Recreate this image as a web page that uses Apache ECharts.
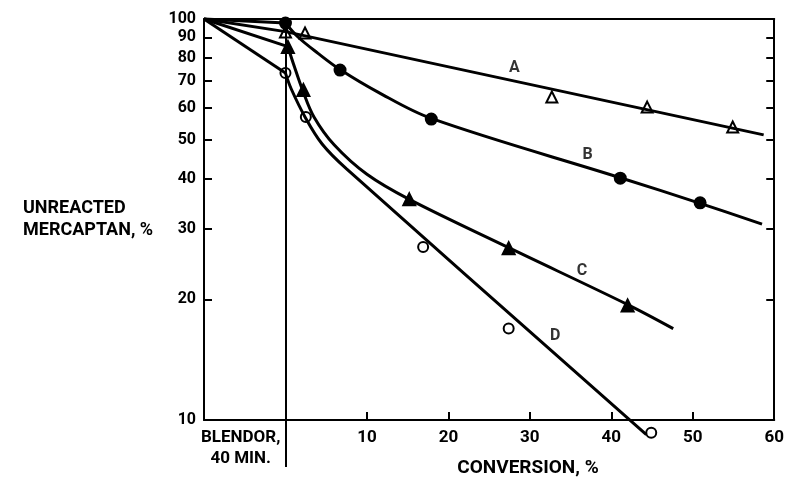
<!DOCTYPE html>
<html>
<head>
<meta charset="utf-8">
<script src="https://cdn.jsdelivr.net/npm/echarts@6/dist/echarts.min.js"></script>
<style>
  html, body { margin: 0; padding: 0; background: #fff; }
  #main { width: 787px; height: 477px; }
</style>
</head>
<body>
<div id="main"></div>
<script>
// measured points (x = conversion %, y = unreacted mercaptan %)
var aX = [0, 2.4, 32.7, 44.4, 54.9];
var aY = [92.8, 92.3, 63.9, 60.3, 53.8];
var bX = [0, 6.7, 17.9, 41.1, 50.9];
var bY = [97.7, 74.6, 56.3, 40.1, 34.8];
var cX = [0.3, 2.2, 15.2, 27.4, 42.0];
var cY = [85.2, 66.5, 35.5, 26.8, 19.3];
var dX = [0, 2.5, 16.9, 27.4, 44.9];
var dY = [73.3, 57.0, 27.0, 16.9, 9.3];

// fitted curves
var curveAX = [0, 58.7];
var curveAY = [93, 51.4];
var curveBX = [0, 1.5, 4, 6.7, 11.3, 17.9, 41.1, 50.9, 58.5];
var curveBY = [97.7, 90.3, 82.1, 74.8, 65.8, 56.5, 40.2, 34.7, 30.8];
var curveCX = [0.3, 1.1, 2.1, 3.5, 6.0, 10, 15.2, 27.4, 42.0, 47.6];
var curveCY = [85.3, 76, 66.5, 57, 48.5, 41, 35.5, 26.9, 19.4, 16.9];
var curveDX = [0, 0.7, 2.4, 4.5, 7.5, 44.3];
var curveDY = [73.3, 67, 57, 48.8, 42.3, 9.2];

// every curve starts at the blendor point
var blendX = -10;
var blendY = 100;

var curveNames = ["A", "B", "C", "D"];
var curveLabelX = [28.1, 37.1, 36.4, 33.1];
var curveLabelY = [75.5, 45.8, 23.5, 16.2];

var yTicks = [10, 20, 30, 40, 50, 60, 70, 80, 90, 100];
var xTicks = [10, 20, 30, 40, 50, 60];
var blendorLabel = "BLENDOR,\n40 MIN.";
var blendorAt = -5.5;

var FONT = "Roboto, 'DejaVu Sans', sans-serif";

function lg(v) {
  return Math.log10(v);
}
function pts(xs, ys) {
  return xs.map(function(x, i) {
    return [x, lg(ys[i])];
  });
}

var innerTicks = yTicks.slice(1, -1).map(lg);

var curves = [
  [curveAX, curveAY],
  [curveBX, curveBY],
  [curveCX, curveCY],
  [curveDX, curveDY]
];

var series = [];
curves.forEach(function(c, i) {
  // straight run from the blendor point to x = 0
  series.push({
    type: "line",
    data: [[blendX, lg(blendY)], [c[0][0], lg(c[1][0])]],
    symbol: "none",
    clip: false,
    silent: true,
    lineStyle: { color: "#000", width: 3 }
  });
  series.push({
    name: curveNames[i],
    type: "line",
    data: pts(c[0], c[1]),
    symbol: "none",
    smooth: 0.35,
    clip: false,
    silent: true,
    lineStyle: { color: "#000", width: 3 },
    markLine: i === 0 ? {
      silent: true,
      symbol: ["none", "none"],
      label: { show: false },
      lineStyle: { color: "#000", width: 2, type: "solid" },
      data: [{ xAxis: 0 }]
    } : undefined
  });
});

var markers = [
  { x: aX, y: aY, symbol: "triangle", size: 11, fill: "#fff" },
  { x: bX, y: bY, symbol: "circle", size: 11, fill: "#000" },
  { x: cX, y: cY, symbol: "triangle", size: 12, fill: "#000" },
  { x: dX, y: dY, symbol: "circle", size: 10, fill: "#fff" }
];
markers.forEach(function(m) {
  series.push({
    type: "scatter",
    data: pts(m.x, m.y),
    symbol: m.symbol,
    symbolSize: m.size,
    clip: false,
    itemStyle: { color: m.fill, borderColor: "#000", borderWidth: 2, opacity: 1 }
  });
});

series.push({
  type: "scatter",
  symbolSize: 0,
  silent: true,
  data: curveNames.map(function(n, i) {
    return { name: n, value: [curveLabelX[i], lg(curveLabelY[i])] };
  }),
  label: {
    show: true,
    position: "inside",
    formatter: "{b}",
    color: "#000",
    fontFamily: FONT,
    fontWeight: "bold",
    fontSize: 16
  }
});

var myChart = echarts.init(document.getElementById("main"));
myChart.setOption({
  animation: false,
  backgroundColor: "#fff",
  grid: { left: 204, right: 11, top: 19, bottom: 57 },
  xAxis: [
    {
      type: "value",
      position: "bottom",
      min: -10,
      max: 60,
      axisLine: { onZero: false, lineStyle: { color: "#000", width: 2 } },
      axisTick: {
        inside: true,
        length: 8,
        customValues: xTicks.slice(0, -1),
        lineStyle: { color: "#000", width: 2 }
      },
      axisLabel: {
        customValues: [blendorAt].concat(xTicks),
        formatter: function(v) {
          return v === blendorAt ? blendorLabel : String(v);
        },
        margin: 7,
        color: "#000",
        fontFamily: FONT,
        fontWeight: "bold",
        fontSize: 17,
        lineHeight: 21
      },
      splitLine: { show: false }
    },
    {
      // the x = 0 line runs on below the axis
      type: "value",
      position: "bottom",
      min: -10,
      max: 60,
      axisLine: { show: false, onZero: false },
      axisTick: {
        inside: false,
        length: 47,
        customValues: [0],
        lineStyle: { color: "#000", width: 2 }
      },
      axisLabel: { show: false },
      splitLine: { show: false }
    },
    {
      type: "value",
      position: "top",
      min: -10,
      max: 60,
      axisLine: { onZero: false, lineStyle: { color: "#000", width: 2 } },
      axisTick: { show: false },
      axisLabel: { show: false },
      splitLine: { show: false }
    }
  ],
  yAxis: [
    {
      type: "value",
      position: "left",
      min: 1,
      max: 2,
      axisLine: { show: true, onZero: false, lineStyle: { color: "#000", width: 2 } },
      axisTick: {
        show: true,
        inside: true,
        length: 8,
        customValues: innerTicks,
        lineStyle: { color: "#000", width: 2 }
      },
      axisLabel: {
        customValues: yTicks.map(lg),
        formatter: function(v) {
          return String(Math.round(Math.pow(10, v)));
        },
        margin: 8,
        color: "#000",
        fontFamily: FONT,
        fontWeight: "bold",
        fontSize: 16
      },
      splitLine: { show: false }
    },
    {
      type: "value",
      position: "right",
      min: 1,
      max: 2,
      axisLine: { show: true, onZero: false, lineStyle: { color: "#000", width: 2 } },
      axisTick: {
        show: true,
        inside: true,
        length: 8,
        customValues: innerTicks,
        lineStyle: { color: "#000", width: 2 }
      },
      axisLabel: { show: false },
      splitLine: { show: false }
    }
  ],
  graphic: [
    {
      type: "text",
      left: 23,
      top: 197,
      style: {
        text: "UNREACTED\nMERCAPTAN, %",
        fill: "#000",
        font: "bold 18px " + FONT,
        lineHeight: 22
      }
    },
    {
      type: "text",
      x: 528,
      y: 468,
      style: {
        text: "CONVERSION, %",
        fill: "#000",
        font: "bold 19px " + FONT,
        align: "center",
        verticalAlign: "middle"
      }
    }
  ],
  series: series
});
</script>
</body>
</html>
